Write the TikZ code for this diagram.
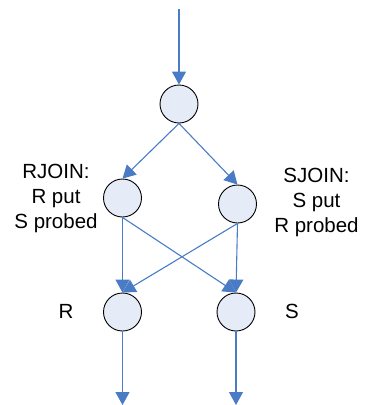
\documentclass[tikz,border=0pt]{standalone}
\usepackage{fontspec}
\setmainfont{Liberation Sans}
\usetikzlibrary{arrows.meta}
\definecolor{edgeblue}{HTML}{4A7CC6}
\definecolor{nodefill}{HTML}{E6ECF7}
\begin{document}
\begin{tikzpicture}[x=1pt,y=-1pt,
  opnode/.style={circle,draw=black,line width=0.9pt,fill=nodefill,minimum size=38pt,inner sep=0pt},
  flow/.style={draw=edgeblue,line width=1.1pt,-{Triangle[length=13pt,width=14pt]}},
  lbl/.style={font=\fontsize{20.5}{25}\selectfont,align=center,inner sep=0pt}]
\useasboundingbox (0,0) rectangle (365,405);
\node[opnode] (top) at (179,104) {};
\node[opnode] (rj) at (122.5,198) {};
\node[opnode] (sj) at (237.5,204) {};
\node[opnode] (r) at (122.5,312) {};
\node[opnode] (s) at (236,312) {};
\coordinate (in) at (179,9);
\coordinate (rout) at (122.5,405);
\coordinate (sout) at (236,405);
\draw[flow] (in) -- (top.north);
\draw[flow] (top.south) -- (rj.north);
\draw[flow] (top.south) -- (sj.north);
\draw[flow] (rj.south) -- (r.north);
\draw[flow] (rj.south) -- (s.north);
\draw[flow] (sj.south) -- (s.north);
\draw[flow] (sj.south) -- (r.north);
\draw[flow] (r.south) -- (rout);
\draw[flow] (s.south) -- (sout);
\node[lbl,anchor=base] (rjl) at (56,228) {RJOIN:\\R put\\S probed};
\node[lbl,anchor=base] (sjl) at (316.5,232) {SJOIN:\\S put\\R probed};
\node[lbl,anchor=base] (rl) at (66,318) {R};
\node[lbl,anchor=base] (sl) at (292,318) {S};
\end{tikzpicture}
\end{document}
